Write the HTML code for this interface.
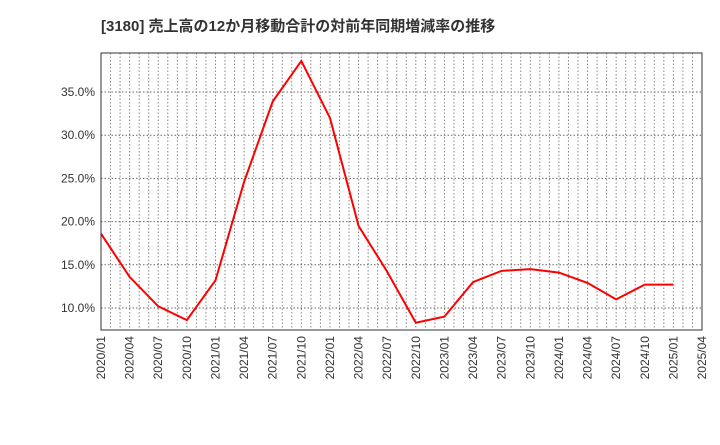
<!DOCTYPE html>
<html><head><meta charset="utf-8"><style>
body{margin:0;background:#fff;}
svg text{font-family:"Liberation Sans","Noto Sans CJK JP",sans-serif;}
</style></head><body>
<svg id="c" width="720" height="440" xmlns="http://www.w3.org/2000/svg">
<text x="101" y="31" font-size="15" font-weight="bold" fill="#333">[3180]  売上高の12か月移動合計の対前年同期増減率の推移</text>
<g id="grid"></g>
<g id="axes"></g>
<polyline id="line" fill="none" stroke="#ff0000" stroke-width="2"/>
<rect x="101" y="53" width="601" height="277" fill="none" stroke="#333" stroke-width="1"/>
</svg>
<script>
const categories=["2020/01","2020/04","2020/07","2020/10","2021/01","2021/04","2021/07","2021/10","2022/01","2022/04","2022/07","2022/10","2023/01","2023/04","2023/07","2023/10","2024/01","2024/04","2024/07","2024/10","2025/01"];
const values=[18.6,13.6,10.2,8.6,13.2,24.6,33.9,38.6,32.0,19.5,14.2,8.3,9.0,13.0,14.3,14.5,14.1,12.9,11.0,12.7,12.7];
const xTickLabels=["2020/01","2020/04","2020/07","2020/10","2021/01","2021/04","2021/07","2021/10","2022/01","2022/04","2022/07","2022/10","2023/01","2023/04","2023/07","2023/10","2024/01","2024/04","2024/07","2024/10","2025/01","2025/04"];
const yTicks=[10,15,20,25,30,35];
const NS="http://www.w3.org/2000/svg";
const x0=101,x1=702,yTop=53,yBot=330;
const qw=(x1-x0)/(xTickLabels.length-1);
const xs=i=>x0+i*qw;
const ys=v=>394.4-v*8.64;
const grid=document.getElementById('grid'),axes=document.getElementById('axes');
function mk(t,a,p){const e=document.createElementNS(NS,t);for(const k in a)e.setAttribute(k,a[k]);p.appendChild(e);return e;}
for(let m=1;m<(xTickLabels.length-1)*3;m++){
 const x=x0+m*qw/3;
 const l=mk('line',{x1:x,x2:x,y1:yTop,y2:yBot,stroke:'#888','stroke-dasharray':'1.5,2','stroke-width':1},grid);
 
 
}
yTicks.forEach(v=>{
 const y=ys(v);
 const l=mk('line',{x1:x0,x2:x1,y1:y,y2:y,stroke:'#666','stroke-dasharray':'1.5,2','stroke-width':1},grid);
 
 
 const t=mk('text',{x:x0-6,y:y+4,'font-size':12,'text-anchor':'end',fill:'#333'},axes);
 t.textContent=v.toFixed(1)+'%';
 
 
});
xTickLabels.forEach((s,i)=>{
 const x=xs(i);
 const t=mk('text',{x:0,y:0,'font-size':12,'text-anchor':'end',fill:'#333',transform:`translate(${x+4},${yBot+6}) rotate(-90)`},axes);
 t.textContent=s;
 
 
});
document.getElementById('line').setAttribute('points',values.map((v,i)=>xs(i)+','+ys(v)).join(' '));
</script>
</body></html>
